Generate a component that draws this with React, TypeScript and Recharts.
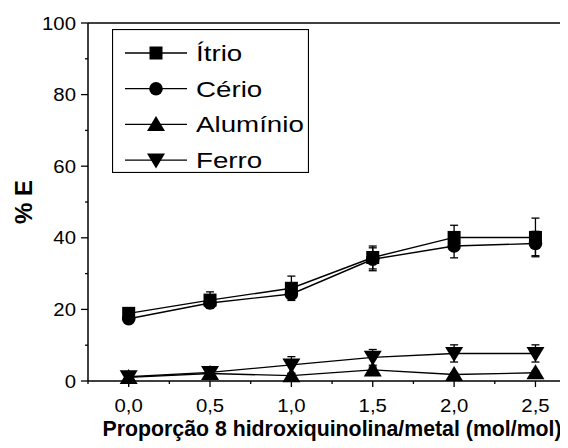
import { LineChart, Line, XAxis, YAxis, ErrorBar, ReferenceLine, Legend } from "recharts";

const proporcao = [0, 0.5, 1.0, 1.5, 2.0, 2.5];
const itrio = [18.9, 22.6, 25.9, 34.5, 40.1, 40.1];
const itrioErr = [0.8, 2.3, 3.4, 3.2, 3.4, 5.4];
const cerio = [17.4, 21.8, 24.3, 34.0, 37.7, 38.4];
const cerioErr = [0.8, 1.2, 1.3, 3.2, 3.3, 3.4];
const aluminio = [1.0, 2.1, 1.5, 3.1, 1.8, 2.3];
const aluminioErr = [0.3, 0.3, 0.5, 0.8, 0.5, 0.5];
const ferro = [1.2, 2.4, 4.5, 6.6, 7.7, 7.7];
const ferroErr = [0.5, 0.8, 2.3, 2.2, 2.4, 2.4];

const seriesNames = ["Ítrio", "Cério", "Alumínio", "Ferro"];
const xTicks = [-0.25, 0, 0.25, 0.5, 0.75, 1, 1.25, 1.5, 1.75, 2, 2.25, 2.5];
const yTicks = [0, 10, 20, 30, 40, 50, 60, 70, 80, 90, 100];
const xLabel = "Proporção 8 hidroxiquinolina/metal (mol/mol)";
const yLabel = "% E";

const data = proporcao.map((p, i) => ({
  p,
  itrio: itrio[i], itrioErr: itrioErr[i],
  cerio: cerio[i], cerioErr: cerioErr[i],
  aluminio: aluminio[i], aluminioErr: aluminioErr[i],
  ferro: ferro[i], ferroErr: ferroErr[i],
}));

const FONT = "'Liberation Sans', Arial, sans-serif";
const INK = "#000";

type Shape = "square" | "circle" | "up" | "down";
const shapes: Shape[] = ["square", "circle", "up", "down"];

function Marker({ shape, cx, cy }: { shape: Shape; cx: number; cy: number }) {
  if (shape === "square") return <rect x={cx - 6.5} y={cy - 6.5} width={13} height={13} fill={INK} />;
  if (shape === "circle") return <circle cx={cx} cy={cy} r={6.8} fill={INK} />;
  if (shape === "up")
    return <polygon points={`${cx - 9},${cy + 6.5} ${cx + 9},${cy + 6.5} ${cx},${cy - 8.5}`} fill={INK} />;
  return <polygon points={`${cx - 9},${cy - 6.5} ${cx + 9},${cy - 6.5} ${cx},${cy + 8.5}`} fill={INK} />;
}

const makeDot = (shape: Shape) => (props: any) => {
  const { cx, cy, index } = props;
  if (cx == null || cy == null) return <g key={index} />;
  return <Marker key={index} shape={shape} cx={cx} cy={cy} />;
};

function XTick({ x, y, payload }: any) {
  const v = payload.value;
  const major = Math.abs(v * 2 - Math.round(v * 2)) < 1e-6;
  return (
    <g>
      <line x1={x} x2={x} y1={y} y2={y + (major ? 6 : 3)} stroke={INK} strokeWidth={1.3} />
      {major && (
        <text transform={`translate(${x},${y + 31}) scale(1.1,1)`} textAnchor="middle"
          fontFamily={FONT} fontSize={18.5} fill={INK}>
          {v.toFixed(1).replace(".", ",")}
        </text>
      )}
    </g>
  );
}

function YTick({ x, y, payload }: any) {
  const v = payload.value;
  const major = v % 20 === 0;
  return (
    <g>
      <line x1={x - (major ? 7 : 3)} x2={x} y1={y} y2={y} stroke={INK} strokeWidth={1.3} />
      {major && (
        <text transform={`translate(${x - 12},${y + 6.5}) scale(1.1,1)`} textAnchor="end"
          fontFamily={FONT} fontSize={18.5} fill={INK}>
          {v}
        </text>
      )}
    </g>
  );
}

function LegendBox() {
  return (
    <svg width={197} height={144} style={{ display: "block" }}>
      <rect x={0.5} y={0.5} width={196} height={143} fill="#fff" stroke={INK} strokeWidth={1.2} />
      {seriesNames.map((name, i) => {
        const cy = 24 + i * 35.7;
        return (
          <g key={name}>
            <line x1={13} x2={75} y1={cy} y2={cy} stroke={INK} strokeWidth={1.3} />
            <Marker shape={shapes[i]} cx={44} cy={cy} />
            <text transform={`translate(84,${cy + 8}) scale(1.26,1)`} fontFamily={FONT}
              fontSize={22} fill={INK}>
              {name}
            </text>
          </g>
        );
      })}
    </svg>
  );
}

export default function App() {
  const series = [
    { key: "itrio", err: "itrioErr" },
    { key: "cerio", err: "cerioErr" },
    { key: "aluminio", err: "aluminioErr" },
    { key: "ferro", err: "ferroErr" },
  ];
  return (
    <LineChart width={560} height={440} data={data} margin={{ top: 15, right: 0, bottom: 0, left: 0 }}>
      <XAxis
        dataKey="p"
        type="number"
        domain={[-0.25, 2.7]}
        allowDataOverflow
        ticks={xTicks}
        interval={0}
        height={67}
        tickSize={0}
        tickMargin={0}
        tickLine={false}
        axisLine={{ stroke: INK, strokeWidth: 1.5 }}
        tick={<XTick />}
        label={{
          content: ({ viewBox }: any) => (
            <text x={viewBox.x + (viewBox.width * 1.5) / 2.95} y={viewBox.y + 55} textAnchor="middle"
              fontFamily={FONT} fontWeight="bold" fontSize={21.3} fill={INK}>
              {xLabel}
            </text>
          ),
        }}
      />
      <YAxis
        type="number"
        domain={[0, 100]}
        ticks={yTicks}
        interval={0}
        width={80}
        tickSize={0}
        tickMargin={0}
        tickLine={false}
        axisLine={{ stroke: INK, strokeWidth: 1.5 }}
        tick={<YTick />}
        label={{
          content: ({ viewBox }: any) => (
            <text transform={`translate(24,${viewBox.y + viewBox.height / 2}) rotate(-90)`}
              textAnchor="middle" fontFamily={FONT} fontWeight="bold" fontSize={24} fill={INK}>
              {yLabel}
            </text>
          ),
        }}
      />
      <ReferenceLine y={100} stroke={INK} strokeWidth={1.5} ifOverflow="visible" />
      <Legend
        content={<LegendBox />}
        layout="horizontal"
        align="center"
        verticalAlign="middle"
        wrapperStyle={{ left: 104, top: 21, width: 197, height: 144 }}
      />
      {series.map((s, i) => (
        <Line
          key={s.key}
          dataKey={s.key}
          name={seriesNames[i]}
          type="linear"
          stroke={INK}
          strokeWidth={1.4}
          dot={makeDot(shapes[i])}
          activeDot={false}
          isAnimationActive={false}
        >
          <ErrorBar dataKey={s.err} direction="y" width={4} stroke={INK} strokeWidth={1.3} />
        </Line>
      ))}
    </LineChart>
  );
}
